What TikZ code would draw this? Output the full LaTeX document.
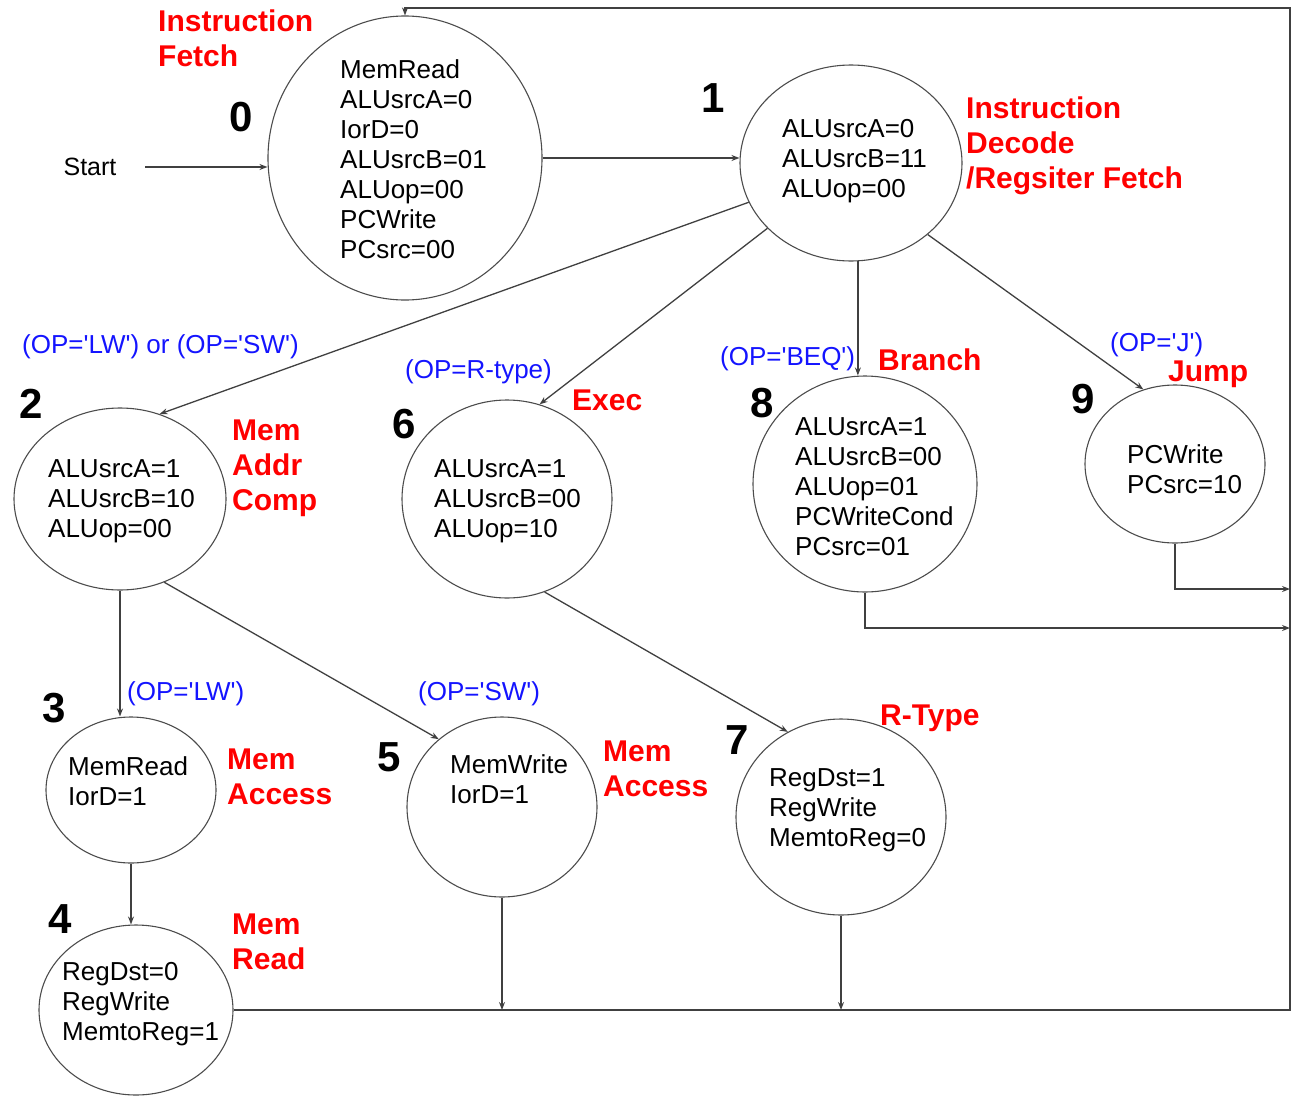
\documentclass[tikz,border=0pt]{standalone}
\usepackage{fontspec}
\setmainfont{Liberation Sans}
\usetikzlibrary{shapes.geometric,arrows.meta}
\newcommand{\sq}{\textquotesingle}
\begin{document}
\begin{tikzpicture}[x=1pt,y=-1pt,
  st/.style={ellipse,draw=black!70,line width=1.1pt,inner sep=0pt},
  txt/.style={anchor=north west,inner sep=0pt,align=left,font=\fontsize{26}{30}\selectfont},
  lbl/.style={anchor=north west,inner sep=0pt,align=left,text=red,font=\bfseries\fontsize{30}{35}\selectfont},
  cond/.style={anchor=north west,inner sep=0pt,text={rgb,255:red,20;green,20;blue,255},font=\fontsize{26}{30}\selectfont},
  num/.style={inner sep=0pt,font=\bfseries\fontsize{42}{48}\selectfont},
  arr/.style={draw=black!75,line width=1.3pt,-{Stealth[length=8pt,width=6pt]}}
]
\useasboundingbox (0,0) rectangle (1293,1095);

% states
\node[st,minimum width=274,minimum height=284] (s0) at (405,158) {};
\node[st,minimum width=222,minimum height=196] (s1) at (851,163) {};
\node[st,minimum width=212,minimum height=182] (s2) at (120,499) {};
\node[st,minimum width=210,minimum height=198] (s6) at (507,499) {};
\node[st,minimum width=224,minimum height=216] (s8) at (865,484) {};
\node[st,minimum width=180,minimum height=158] (s9) at (1175,464) {};
\node[st,minimum width=170,minimum height=146] (s3) at (131,790) {};
\node[st,minimum width=190,minimum height=180] (s5) at (502,807) {};
\node[st,minimum width=210,minimum height=196] (s7) at (841,817) {};
\node[st,minimum width=194,minimum height=170] (s4) at (136,1010) {};

% state texts
\node[txt] (t0) at (340,59) {MemRead\\ALUsrcA=0\\IorD=0\\ALUsrcB=01\\ALUop=00\\PCWrite\\PCsrc=00};
\node[txt] (t1) at (782,119) {ALUsrcA=0\\ALUsrcB=11\\ALUop=00};
\node[txt] (t2) at (48,459) {ALUsrcA=1\\ALUsrcB=10\\ALUop=00};
\node[txt] (t6) at (434,459) {ALUsrcA=1\\ALUsrcB=00\\ALUop=10};
\node[txt] (t8) at (795,417) {ALUsrcA=1\\ALUsrcB=00\\ALUop=01\\PCWriteCond\\PCsrc=01};
\node[txt] (t9) at (1127,444) {PCWrite\\PCsrc=10};
\node[txt] (t3) at (68,756) {MemRead\\IorD=1};
\node[txt] (t5) at (450,754) {MemWrite\\IorD=1};
\node[txt] (t7) at (769,768) {RegDst=1\\RegWrite\\MemtoReg=0};
\node[txt] (t4) at (62,962) {RegDst=0\\RegWrite\\MemtoReg=1};

% numbers
\node[num] (n0) at (241,117) {0};
\node[num] (n1) at (713,98) {1};
\node[num] (n2) at (31,404) {2};
\node[num] (n6) at (404,424) {6};
\node[num] (n8) at (762,403) {8};
\node[num] (n9) at (1083,399) {9};
\node[num] (n3) at (54,708) {3};
\node[num] (n5) at (389,757) {5};
\node[num] (n7) at (737,740) {7};
\node[num] (n4) at (60,919) {4};

% red labels
\node[lbl] (l0) at (158,10) {Instruction\\Fetch};
\node[lbl] (l1) at (966,97) {Instruction\\Decode\\/Regsiter Fetch};
\node[lbl] (l2) at (232,420) {Mem\\Addr\\Comp};
\node[lbl] (l6) at (572,390) {Exec};
\node[lbl] (l8) at (878,349) {Branch};
\node[lbl] (l9) at (1168,361) {Jump};
\node[lbl] (l3) at (227,749) {Mem\\Access};
\node[lbl] (l5) at (603,741) {Mem\\Access};
\node[lbl] (l7) at (880,705) {R-Type};
\node[lbl] (l4) at (232,914) {Mem\\Read};

% conditions
\node[cond] (c2) at (22,334) {(OP=\sq LW\sq) or (OP=\sq SW\sq)};
\node[cond] (c6) at (405,359) {(OP=R-type)};
\node[cond] (c8) at (720,346) {(OP=\sq BEQ\sq)};
\node[cond] (c9) at (1110,332) {(OP=\sq J\sq)};
\node[cond] (c3) at (127,681) {(OP=\sq LW\sq)};
\node[cond] (c5) at (418,681) {(OP=\sq SW\sq)};

% start
\node[inner sep=0pt,font=\fontsize{25}{30}\selectfont] (start) at (90,167) {Start};
\coordinate (st) at (145,167);

% loop-back coordinates
\coordinate (br) at (1290,1010);
\coordinate (tr) at (1290,8);
\coordinate (rj) at (1290,589);
\coordinate (rb) at (1290,628);

% connectors
\draw[arr] (st) -- (st -| s0.west);
\draw[arr] (s0.east) -- (s0.east -| s1.west);
\draw[arr] (s1.201) -- (s2.65);
\draw[arr] (s1.218) -- (s6.71);
\draw[arr] (s1.274) -- (s1.274 |- s8.north);
\draw[arr] (s1.317) -- (s9.113);
\draw[arr] (s2.south) -- (s2.south |- s3.north);
\draw[arr] (s2.298) -- (s5.133);
\draw[arr] (s6.292) -- (s7.122);
\draw[arr] (s3.south) -- (s3.south |- s4.north);
\draw[arr] (s5.south) -- (s5.south |- br);
\draw[arr] (s7.south) -- (s7.south |- br);
\draw[arr] (s9.south) |- (rj);
\draw[arr] (s8.south) |- (rb);
\draw[arr] (s4.east) -- (br) -- (tr) -- (tr -| s0.north) -- (s0.north);
\end{tikzpicture}
\end{document}
